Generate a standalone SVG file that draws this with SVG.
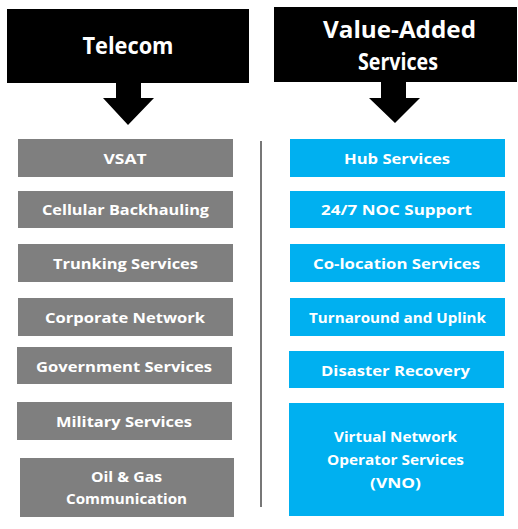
<svg xmlns="http://www.w3.org/2000/svg" width="518" height="529" viewBox="0 0 518 529">
<style>
.hdr{fill:#000}
.gray{fill:#7f7f7f}
.blue{fill:#00b0f0}
text{font-family:"Open Sans","Noto Sans","Liberation Sans",sans-serif;font-weight:700;fill:#fff;text-anchor:middle}
.h{font-size:24px}
.t{font-size:15px}
</style>
<rect width="518" height="529" fill="#fff"/>
<g id="telecom">
<rect class="hdr" x="7" y="9" width="242" height="74"/>
<text class="h" x="128" y="54" textLength="91" lengthAdjust="spacingAndGlyphs">Telecom</text>
</g>
<g id="vas">
<rect class="hdr" x="274" y="7" width="243" height="75"/>
<text class="h" x="399.5" y="38" textLength="153" lengthAdjust="spacingAndGlyphs">Value-Added</text>
<text class="h" x="398" y="70" textLength="80" lengthAdjust="spacingAndGlyphs">Services</text>
</g>
<g id="connectors">
<polygon fill="#000" points="116,82 141,82 141,98 154,98 128,125 103,98 116,98"/>
<polygon fill="#000" points="381,81 406,81 406,98 420,98 395,123 369,98 381,98"/>
<rect x="260" y="141" width="2" height="366" fill="#777"/>
</g>
<g id="vsat"><rect class="gray" x="18" y="139" width="215" height="38"/><text class="t" x="125" y="163.5" textLength="43" lengthAdjust="spacingAndGlyphs">VSAT</text></g>
<g id="cellular"><rect class="gray" x="18" y="191" width="215" height="37"/><text class="t" x="125.5" y="215" textLength="167" lengthAdjust="spacingAndGlyphs">Cellular Backhauling</text></g>
<g id="trunking"><rect class="gray" x="18" y="244" width="215" height="38"/><text class="t" x="125.5" y="268.5" textLength="145" lengthAdjust="spacingAndGlyphs">Trunking Services</text></g>
<g id="corporate"><rect class="gray" x="18" y="298" width="215" height="38"/><text class="t" x="125" y="322.5" textLength="160" lengthAdjust="spacingAndGlyphs">Corporate Network</text></g>
<g id="government"><rect class="gray" x="17" y="347" width="215" height="37"/><text class="t" x="124" y="371.5" textLength="176" lengthAdjust="spacingAndGlyphs">Government Services</text></g>
<g id="military"><rect class="gray" x="17" y="402" width="215" height="38"/><text class="t" x="124" y="426.5" textLength="136" lengthAdjust="spacingAndGlyphs">Military Services</text></g>
<g id="oilgas"><rect class="gray" x="20" y="458" width="214" height="59"/><text class="t" x="126.5" y="481.5" textLength="71" lengthAdjust="spacingAndGlyphs">Oil &amp; Gas</text><text class="t" x="126.5" y="503.5" textLength="121" lengthAdjust="spacingAndGlyphs">Communication</text></g>
<g id="hub"><rect class="blue" x="290" y="139" width="215" height="38"/><text class="t" x="397" y="163.5" textLength="106" lengthAdjust="spacingAndGlyphs">Hub Services</text></g>
<g id="noc"><rect class="blue" x="290" y="191" width="215" height="37"/><text class="t" x="396.5" y="215" textLength="151" lengthAdjust="spacingAndGlyphs">24/7 NOC Support</text></g>
<g id="colocation"><rect class="blue" x="290" y="244" width="215" height="38"/><text class="t" x="396.5" y="268.5" textLength="167" lengthAdjust="spacingAndGlyphs">Co-location Services</text></g>
<g id="turnaround"><rect class="blue" x="290" y="298" width="215" height="38"/><text class="t" x="397.5" y="322.5" textLength="177" lengthAdjust="spacingAndGlyphs">Turnaround and Uplink</text></g>
<g id="disaster"><rect class="blue" x="289" y="351" width="215" height="37"/><text class="t" x="395.5" y="375.5" textLength="149" lengthAdjust="spacingAndGlyphs">Disaster Recovery</text></g>
<g id="vno"><rect class="blue" x="289" y="403" width="215" height="113"/><text class="t" x="395.5" y="441.5" textLength="123" lengthAdjust="spacingAndGlyphs">Virtual Network</text><text class="t" x="395.5" y="464.5" textLength="137" lengthAdjust="spacingAndGlyphs">Operator Services</text><text class="t" x="395.5" y="487.5" textLength="51" lengthAdjust="spacingAndGlyphs">(VNO)</text></g>
</svg>
